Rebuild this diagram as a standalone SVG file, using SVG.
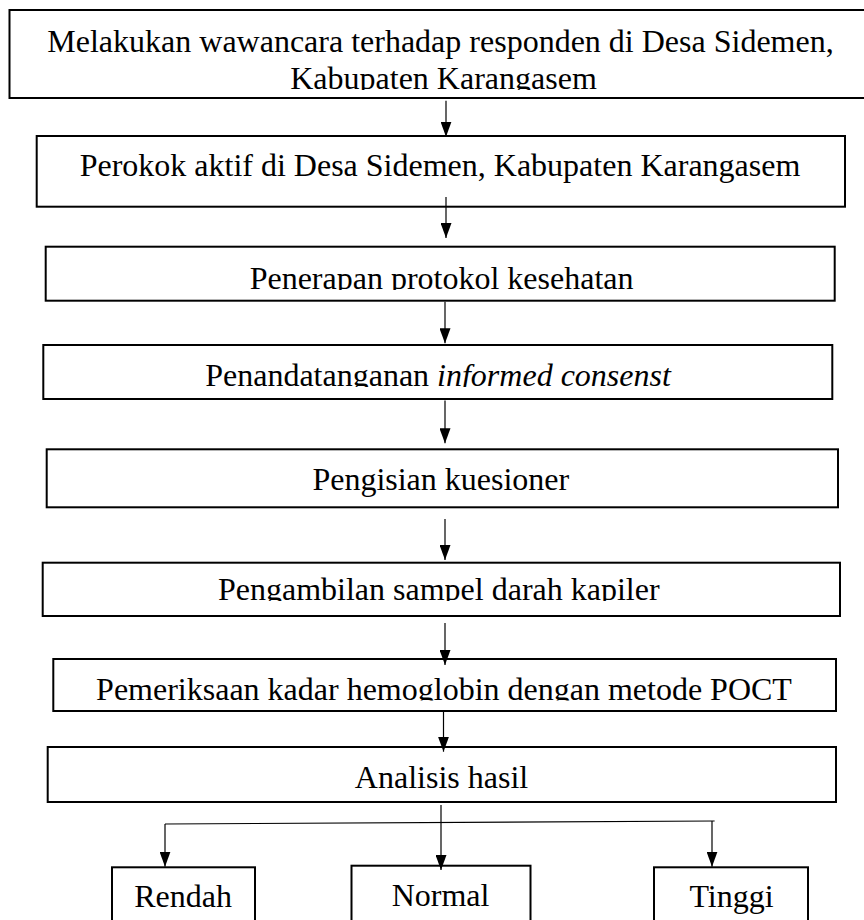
<svg xmlns="http://www.w3.org/2000/svg" width="864" height="920" viewBox="0 0 864 920">
<style>
.box{fill:#fff;stroke:#000;stroke-width:2}
.t{font-family:"Liberation Serif","Times New Roman",serif;font-size:32px;fill:#000;text-anchor:middle}
.c{stroke:#000;stroke-width:1.2;fill:none}
</style>
<defs>
<marker id="ah" markerUnits="userSpaceOnUse" markerWidth="15" markerHeight="11" refX="15" refY="5.5" orient="auto">
<path d="M0,0 L15,5.5 L0,11 z" fill="#000"/>
</marker>
<clipPath id="cp1"><rect x="10" y="11" width="860" height="79"/></clipPath>
<clipPath id="cp3"><rect x="46" y="247" width="788" height="43"/></clipPath>
<clipPath id="cp4"><rect x="44" y="346" width="788" height="41"/></clipPath>
<clipPath id="cp6"><rect x="43" y="564" width="797" height="37"/></clipPath>
<clipPath id="cp7"><rect x="54" y="660" width="782" height="40.5"/></clipPath>
</defs>
<rect width="864" height="920" fill="#fff"/>
<g id="n1">
<rect class="box" x="9.5" y="10" width="860" height="88"/>
<g clip-path="url(#cp1)">
<text class="t" x="440.5" y="52">Melakukan wawancara terhadap responden di Desa Sidemen,</text>
<text class="t" x="443.5" y="89">Kabupaten Karangasem</text>
</g>
</g>
<g id="n2">
<rect class="box" x="36.7" y="136" width="808.3" height="70.7"/>
<text class="t" x="440" y="176">Perokok aktif di Desa Sidemen, Kabupaten Karangasem</text>
</g>
<g id="n3">
<rect class="box" x="45.7" y="246.7" width="789" height="54"/>
<text class="t" x="441.6" y="289" clip-path="url(#cp3)">Penerapan protokol kesehatan</text>
</g>
<g id="n4">
<rect class="box" x="43.3" y="345" width="789" height="54"/>
<text class="t" x="438" y="386" clip-path="url(#cp4)">Penandatanganan <tspan font-style="italic">informed consenst</tspan></text>
</g>
<g id="n5">
<rect class="box" x="46.7" y="449.3" width="791.3" height="58"/>
<text class="t" x="440.8" y="490">Pengisian kuesioner</text>
</g>
<g id="n6">
<rect class="box" x="42.7" y="562.7" width="797.3" height="53.3"/>
<text class="t" x="438.8" y="600" clip-path="url(#cp6)">Pengambilan sampel darah kapiler</text>
</g>
<g id="n7">
<rect class="box" x="53.3" y="659" width="782.7" height="52"/>
<text class="t" x="444" y="699.5" clip-path="url(#cp7)">Pemeriksaan kadar hemoglobin dengan metode POCT</text>
</g>
<g id="n8">
<rect class="box" x="47.7" y="747" width="788.3" height="55"/>
<text class="t" x="441.5" y="788">Analisis hasil</text>
</g>
<g id="n9">
<rect class="box" x="112" y="867.3" width="143" height="70"/>
<text class="t" x="183" y="907">Rendah</text>
</g>
<g id="n10">
<rect class="box" x="351.5" y="865.7" width="179" height="70"/>
<text class="t" x="440.5" y="906">Normal</text>
</g>
<g id="n11">
<rect class="box" x="654" y="867.3" width="154" height="70"/>
<text class="t" x="731.5" y="907">Tinggi</text>
</g>
<g id="connectors">
<line class="c" x1="446" y1="100.7" x2="446" y2="136.7" marker-end="url(#ah)"/>
<line class="c" x1="446" y1="197" x2="446" y2="238" marker-end="url(#ah)"/>
<line class="c" x1="445" y1="301.7" x2="445" y2="343.3" marker-end="url(#ah)"/>
<line class="c" x1="445" y1="400.5" x2="445" y2="443.3" marker-end="url(#ah)"/>
<line class="c" x1="445" y1="519" x2="445" y2="560" marker-end="url(#ah)"/>
<line class="c" x1="445" y1="623" x2="445" y2="665" marker-end="url(#ah)"/>
<line class="c" x1="443.5" y1="711" x2="443.5" y2="751.7" marker-end="url(#ah)"/>
<line class="c" x1="441" y1="805" x2="441" y2="870" marker-end="url(#ah)"/>
<line class="c" x1="165" y1="824" x2="714.6" y2="821"/>
<line class="c" x1="165" y1="824" x2="165" y2="866.7" marker-end="url(#ah)"/>
<line class="c" x1="712" y1="821" x2="712" y2="866.7" marker-end="url(#ah)"/>
</g>
</svg>
